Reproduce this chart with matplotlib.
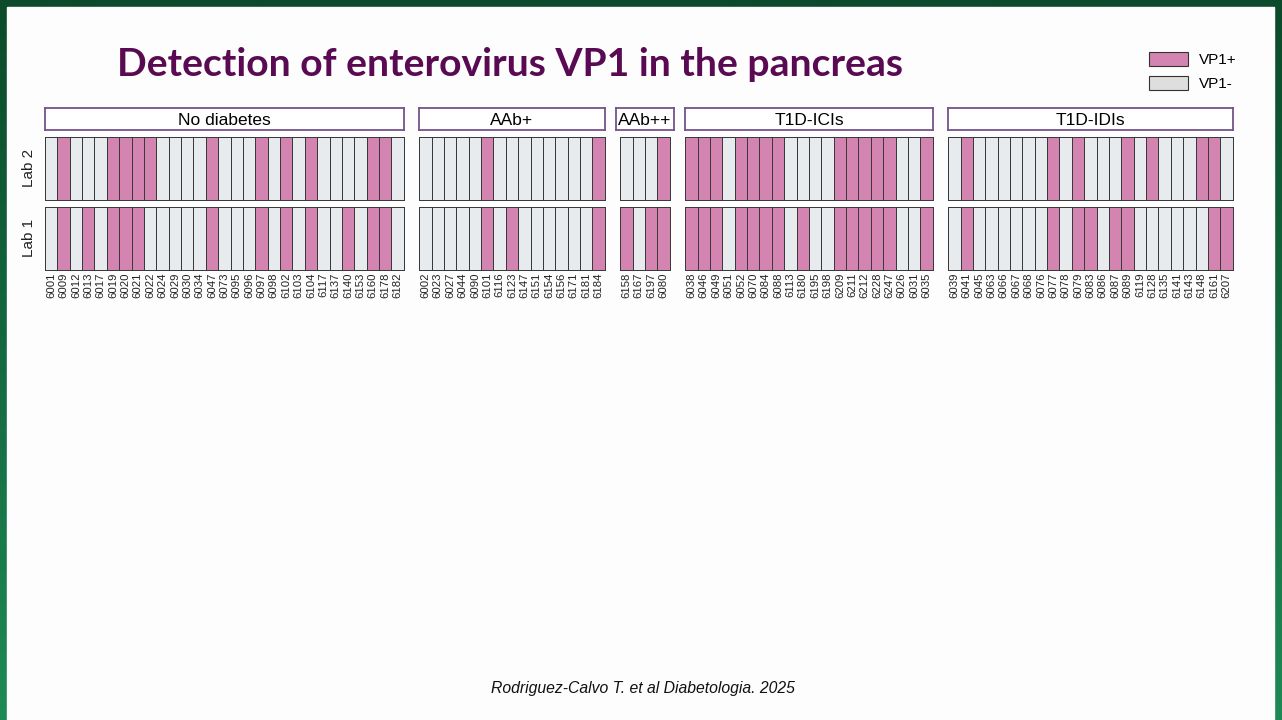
import numpy as np
import matplotlib.pyplot as plt
from matplotlib.colors import ListedColormap, LinearSegmentedColormap
from matplotlib.patches import Patch, Rectangle

plt.rcParams['font.family'] = ['Liberation Sans', 'DejaVu Sans']

groups = ["No diabetes", "AAb+", "AAb++", "T1D-ICIs", "T1D-IDIs"]

donors = [
    ["6001", "6009", "6012", "6013", "6017", "6019", "6020", "6021", "6022", "6024",
     "6029", "6030", "6034", "6047", "6073", "6095", "6096", "6097", "6098", "6102",
     "6103", "6104", "6117", "6137", "6140", "6153", "6160", "6178", "6182"],
    ["6002", "6023", "6027", "6044", "6090", "6101", "6116", "6123", "6147", "6151",
     "6154", "6156", "6171", "6181", "6184"],
    ["6158", "6167", "6197", "6080"],
    ["6038", "6046", "6049", "6051", "6052", "6070", "6084", "6088", "6113", "6180",
     "6195", "6198", "6209", "6211", "6212", "6228", "6247", "6026", "6031", "6035"],
    ["6039", "6041", "6045", "6063", "6066", "6067", "6068", "6076", "6077", "6078",
     "6079", "6083", "6086", "6087", "6089", "6119", "6128", "6135", "6141", "6143",
     "6148", "6161", "6207"],
]

# 1 = VP1+, 0 = VP1-
lab2 = [
    [0, 1, 0, 0, 0, 1, 1, 1, 1, 0, 0, 0, 0, 1, 0, 0, 0, 1, 0, 1, 0, 1, 0, 0, 0, 0, 1, 1, 0],
    [0, 0, 0, 0, 0, 1, 0, 0, 0, 0, 0, 0, 0, 0, 1],
    [0, 0, 0, 1],
    [1, 1, 1, 0, 1, 1, 1, 1, 0, 0, 0, 0, 1, 1, 1, 1, 1, 0, 0, 1],
    [0, 1, 0, 0, 0, 0, 0, 0, 1, 0, 1, 0, 0, 0, 1, 0, 1, 0, 0, 0, 1, 1, 0],
]
lab1 = [
    [0, 1, 0, 1, 0, 1, 1, 1, 0, 0, 0, 0, 0, 1, 0, 0, 0, 1, 0, 1, 0, 1, 0, 0, 1, 0, 1, 1, 0],
    [0, 0, 0, 0, 0, 1, 0, 1, 0, 0, 0, 0, 0, 0, 1],
    [1, 0, 1, 1],
    [1, 1, 1, 0, 1, 1, 1, 1, 0, 1, 0, 0, 1, 1, 1, 1, 1, 0, 0, 1],
    [0, 1, 0, 0, 0, 0, 0, 0, 1, 0, 1, 1, 0, 1, 1, 0, 0, 0, 0, 0, 0, 1, 1],
]

pink = "#d384b1"
grey = "#e8ebee"
cmap = ListedColormap([grey, pink])

W, H = 1282, 720


def px(x, y, w, h):
    return [x / W, 1 - (y + h) / H, w / W, h / H]


fig = plt.figure(figsize=(W / 100, H / 100), dpi=100)

# green slide frame
bg = fig.add_axes([0, 0, 1, 1])
green = LinearSegmentedColormap.from_list("g", ["#0b4a2a", "#1e8a55"])
bg.imshow(np.linspace(0, 1, 256).reshape(-1, 1), cmap=green, aspect="auto",
          extent=[0, 1, 0, 1])
bg.add_patch(Rectangle((7 / W, 0), (1274 - 7) / W, 713 / H, color="#fdfdfd"))
bg.set_xlim(0, 1)
bg.set_ylim(0, 1)
bg.axis("off")

fig.text(117 / W, 1 - 64 / H, "Detection of enterovirus VP1 in the pancreas",
         fontsize=28.2, fontweight="bold", color="#5a0a52", family="Lato",
         ha="left", va="center")

cw = 12.37
gap = 15.5
x = 45
for i, g in enumerate(groups):
    n = len(donors[i])
    w = n * cw
    ax = fig.add_axes(px(x, 137, w, 133))
    m2 = ax.pcolormesh(np.arange(n + 1), [1.1, 2.1], np.array([lab2[i]]), cmap=cmap,
                       vmin=0, vmax=1, edgecolors="#3a3a3a", linewidth=0.6)
    m1 = ax.pcolormesh(np.arange(n + 1), [0, 1], np.array([lab1[i]]), cmap=cmap,
                       vmin=0, vmax=1, edgecolors="#3a3a3a", linewidth=0.6)
    m1.set_clip_on(False)
    m2.set_clip_on(False)
    ax.set_xlim(0, n)
    ax.set_ylim(0, 2.1)
    ax.set_xticks(np.arange(n) + 0.5)
    ax.set_xticklabels(donors[i], rotation=90, fontsize=8.2, color="#222222")
    ax.tick_params(axis="x", length=0, pad=2)
    ax.set_yticks([])
    for s in ax.spines.values():
        s.set_visible(False)

    sw = max(w, 58)
    sax = fig.add_axes(px(x + w / 2 - sw / 2, 108, sw, 22))
    sax.set_xticks([])
    sax.set_yticks([])
    for s in sax.spines.values():
        s.set_color("#74548a")
        s.set_linewidth(1.3)
    sax.text(0.5, 0.45, g, fontsize=12.5, ha="center", va="center",
             transform=sax.transAxes)
    x += w + gap

fig.text(29 / W, 1 - 168 / H, "Lab 2", rotation=90, ha="center", va="center",
         fontsize=11, color="#222222")
fig.text(29 / W, 1 - 238 / H, "Lab 1", rotation=90, ha="center", va="center",
         fontsize=11, color="#222222")

handles = [Patch(facecolor=pink, edgecolor="#333333", linewidth=0.8),
           Patch(facecolor="#dedede", edgecolor="#333333", linewidth=0.8)]
fig.legend(handles, ["VP1+", "VP1-"], loc="upper left",
           bbox_to_anchor=(1149 / W, 1 - 52 / H), frameon=False, fontsize=11,
           handlelength=2.55, handleheight=1.0, labelspacing=0.6,
           handletextpad=0.7, borderpad=0, borderaxespad=0)

fig.text(643 / W, 1 - 689 / H, "Rodriguez-Calvo T. et al Diabetologia. 2025",
         fontsize=11.3, style="italic", ha="center", va="center", color="#111111")

fig.savefig("out.png", dpi=100)
